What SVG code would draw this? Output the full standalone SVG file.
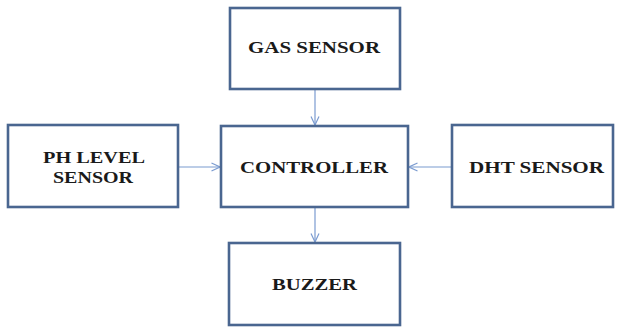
<svg xmlns="http://www.w3.org/2000/svg" width="617" height="327" viewBox="0 0 617 327">
<style>
.box{fill:#ffffff;stroke:#4a6690;stroke-width:2.6}
.lbl{font-family:"Liberation Serif","Times New Roman",serif;font-weight:bold;font-size:17px;fill:#1a1a1a;text-anchor:middle}
.con{stroke:#7b9bd0;stroke-width:1.2;fill:none}
</style>
<defs>
<marker id="ah" viewBox="0 0 10 10" refX="9.5" refY="5" markerWidth="10" markerHeight="10" markerUnits="userSpaceOnUse" orient="auto">
<path d="M1,1 L9.5,5 L1,9" fill="none" stroke="#7b9bd0" stroke-width="1.2"/>
</marker>
</defs>
<rect width="617" height="327" fill="#ffffff"/>
<g id="connectors">
<line class="con" x1="315" y1="90" x2="315" y2="125" marker-end="url(#ah)"/>
<line class="con" x1="315" y1="208" x2="315" y2="242" marker-end="url(#ah)"/>
<line class="con" x1="179" y1="167" x2="220" y2="167" marker-end="url(#ah)"/>
<line class="con" x1="451" y1="167" x2="409" y2="167" marker-end="url(#ah)"/>
</g>
<g id="gas">
<rect class="box" x="230" y="8" width="170" height="81"/>
<text class="lbl" x="314" y="53" textLength="132" lengthAdjust="spacingAndGlyphs">GAS SENSOR</text>
</g>
<g id="ph">
<rect class="box" x="8" y="125" width="170" height="82"/>
<text class="lbl" x="94" y="163" textLength="102" lengthAdjust="spacingAndGlyphs">PH LEVEL</text>
<text class="lbl" x="93" y="183" textLength="80" lengthAdjust="spacingAndGlyphs">SENSOR</text>
</g>
<g id="controller">
<rect class="box" x="221" y="126" width="187" height="81"/>
<text class="lbl" x="314" y="172.5" textLength="148" lengthAdjust="spacingAndGlyphs">CONTROLLER</text>
</g>
<g id="dht">
<rect class="box" x="452" y="125" width="161" height="82"/>
<text class="lbl" x="536.5" y="172.5" textLength="135" lengthAdjust="spacingAndGlyphs">DHT SENSOR</text>
</g>
<g id="buzzer">
<rect class="box" x="229" y="243" width="171" height="82"/>
<text class="lbl" x="314.5" y="290" textLength="85" lengthAdjust="spacingAndGlyphs">BUZZER</text>
</g>
</svg>
